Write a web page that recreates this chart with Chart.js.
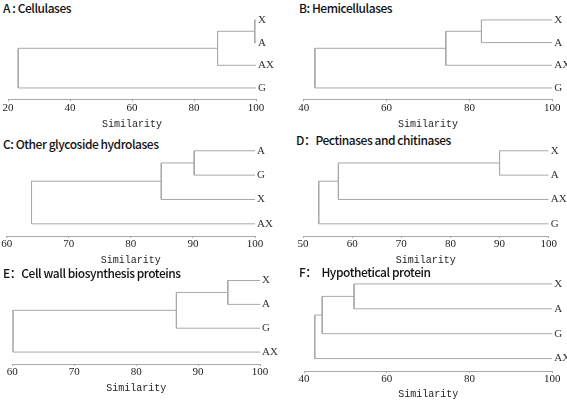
<!DOCTYPE html>
<html lang="en">
<head>
    <meta charset="UTF-8">
    <title>Dendrograms</title>
    <script src="https://cdn.jsdelivr.net/npm/chart.js"></script>
    <style>
        body { margin: 0; background: white; }
        #wrap { position: relative; width: 567px; height: 400px; overflow: hidden; }
        #wrap canvas { position: absolute; }
        .ptitle {
            position: absolute;
            font-family: "Noto Sans CJK SC", "Noto Sans", sans-serif;
            font-size: 12px;
            font-weight: 500;
            letter-spacing: -0.45px;
            line-height: 16px;
            color: #111;
            white-space: pre;
        }
    </style>
</head>
<body>
    <div id="wrap"></div>

    <script>
        // panel data
        const panelTitles = [
            "A : Cellulases",
            "B: Hemicellulases",
            "C: Other glycoside hydrolases",
            "D：Pectinases and chitinases",
            "E：Cell wall biosynthesis proteins",
            "F：  Hypothetical protein"
        ];
        // leaves top to bottom
        const leafOrder = [
            ["X", "A", "AX", "G"],
            ["X", "A", "AX", "G"],
            ["A", "G", "X", "AX"],
            ["X", "A", "AX", "G"],
            ["X", "A", "G", "AX"],
            ["X", "A", "G", "AX"]
        ];
        // similarity of each join: leaf1+leaf2, then +leaf3, then +leaf4
        const mergeSimilarity = [
            [99.6, 87.6, 23.3],
            [82.9, 74.3, 42.7],
            [90.2, 84.9, 64.0],
            [90.0, 57.2, 53.2],
            [94.8, 86.5, 60.1],
            [52.1, 44.4, 42.6]
        ];
        const axisMin = [20, 40, 60, 50, 60, 40];
        const axisMax = [100, 100, 100, 100, 100, 100];
        const axisStep = [20, 20, 10, 10, 10, 20];

        // where each panel sits (canvas box, then plot area inside it)
        const boxes = [
            { left: 0,   top: 0,   w: 283, h: 130, aL: 8,    aR: 256,   aT: 0.7,  aB: 99.3,  titleX: 3,   titleY: 0,   titlePad: 0 },
            { left: 283, top: 0,   w: 284, h: 130, aL: 20.7, aR: 269.3, aT: 0.7,  aB: 99.3,  titleX: 16,  titleY: 0,   titlePad: 0 },
            { left: 0,   top: 130, w: 283, h: 136, aL: 6.7,  aR: 255,   aT: 5.8,  aB: 106,   titleX: 3,   titleY: 6,   titlePad: 0 },
            { left: 283, top: 130, w: 284, h: 136, aL: 20,   aR: 265.7, aT: 5.8,  aB: 106,   titleX: 13,  titleY: 2,   titlePad: 0 },
            { left: 0,   top: 260, w: 283, h: 140, aL: 12.3, aR: 260,   aT: 3.5,  aB: 104,   titleX: 3,   titleY: 5,   titlePad: 5.3 },
            { left: 283, top: 260, w: 284, h: 140, aL: 21,   aR: 269.3, aT: 11.5, aB: 111,   titleX: 16,  titleY: 4,   titlePad: 0 }
        ];

        const lineColor = "#a8a8a8";
        const wrap = document.getElementById("wrap");

        function brackets(merges) {
            // ladder tree: each join adds the next leaf under the current cluster
            let segs = [];
            let nodeX = 100, nodeY = 0;
            for (let k = 0; k < merges.length; k++) {
                const m = merges[k];
                const leafY = k + 1;
                segs.push([
                    { x: nodeX, y: nodeY },
                    { x: m, y: nodeY },
                    { x: m, y: leafY },
                    { x: 100, y: leafY }
                ]);
                nodeY = (nodeY + leafY) / 2;
                nodeX = m;
            }
            return segs;
        }

        boxes.forEach((b, i) => {
            const t = document.createElement("div");
            t.className = "ptitle";
            t.style.left = (b.left + b.titleX) + "px";
            t.style.top = (b.top + b.titleY) + "px";
            t.textContent = panelTitles[i];
            wrap.appendChild(t);

            const c = document.createElement("canvas");
            c.width = b.w;
            c.height = b.h;
            c.style.left = b.left + "px";
            c.style.top = b.top + "px";
            wrap.appendChild(c);

            const leaves = leafOrder[i];
            const datasets = brackets(mergeSimilarity[i]).map(pts => ({
                data: pts,
                showLine: true,
                borderColor: lineColor,
                borderWidth: 1,
                pointRadius: 0,
                fill: false
            }));

            new Chart(c, {
                type: "scatter",
                data: { datasets: datasets },
                options: {
                    responsive: false,
                    animation: false,
                    devicePixelRatio: 1,
                    layout: { padding: { left: b.aL, top: b.aT, right: 0, bottom: 0 } },
                    plugins: { legend: { display: false }, tooltip: { enabled: false } },
                    scales: {
                        x: {
                            type: "linear",
                            min: axisMin[i],
                            max: axisMax[i],
                            ticks: {
                                stepSize: axisStep[i],
                                maxRotation: 0,
                                autoSkip: false,
                                padding: 0,
                                color: "#222",
                                font: { family: "'Liberation Serif', serif", size: 11 }
                            },
                            grid: { drawOnChartArea: false, drawTicks: true, tickLength: 2, color: lineColor },
                            border: { color: lineColor, width: 1 },
                            title: {
                                display: true,
                                text: "Similarity",
                                color: "#222",
                                font: { family: "'Liberation Mono', monospace", size: 10 },
                                padding: { top: 0, bottom: b.titlePad }
                            },
                            afterFit: s => { s.height = b.h - b.aB; }
                        },
                        y: {
                            type: "linear",
                            position: "right",
                            reverse: true,
                            min: -0.5,
                            max: 3.5,
                            afterBuildTicks: s => { s.ticks = [0, 1, 2, 3].map(v => ({ value: v })); },
                            ticks: {
                                padding: 2,
                                color: "#333",
                                font: { family: "'Liberation Serif', serif", size: 11 },
                                callback: v => leaves[v]
                            },
                            grid: { display: false, drawTicks: false },
                            border: { display: false },
                            afterFit: s => { s.width = b.w - b.aR; }
                        }
                    }
                }
            });
        });
    </script>
</body>
</html>
